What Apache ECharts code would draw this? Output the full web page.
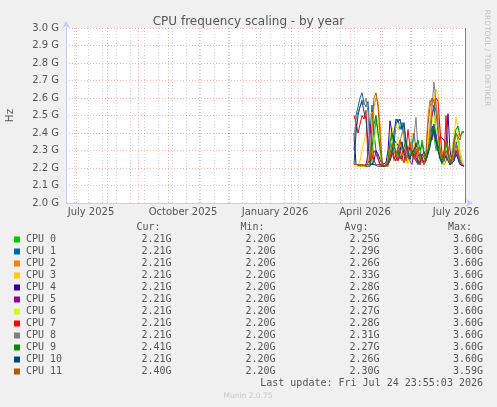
<!DOCTYPE html>
<html>
<head>
<meta charset="utf-8">
<title>CPU frequency scaling - by year</title>
<script src="https://cdn.jsdelivr.net/npm/echarts@6/dist/echarts.min.js"></script>
<style>
  html, body { margin: 0; padding: 0; background: #f0f0f0; }
  #chart { width: 497px; height: 407px; }
</style>
</head>
<body>
<div id="chart"></div>
<script>
const DAY = 24 * 3600 * 1000
// x range of the graph (400 days up to last update)
const xMin = Date.UTC(2025, 5, 21)
const xMax = Date.UTC(2026, 6, 25)
// samples: every 2 days from 5 April 2026
const firstDay = Date.UTC(2026, 3, 5)
const stepDays = 2

const names = ['CPU 0', 'CPU 1', 'CPU 2', 'CPU 3', 'CPU 4', 'CPU 5', 'CPU 6', 'CPU 7', 'CPU 8', 'CPU 9', 'CPU 10', 'CPU 11']
const colors = ['#00cc00', '#0066b3', '#ff8000', '#ffcc00', '#330099', '#990099', '#ccff00', '#ff0000', '#808080', '#008f00', '#00487d', '#b35a00']

// GHz
const cpu0 = [2.22, 2.21, 2.22, 2.21, 2.21, 2.22, 2.21, 2.21,
  2.21, 2.23, 2.35, 2.48, 2.40, 2.30, 2.22, 2.21,
  2.21, 2.22, 2.30, 2.40, 2.35, 2.28, 2.25, 2.30,
  2.33, 2.28, 2.26, 2.24, 2.30, 2.36, 2.28, 2.25,
  2.23, 2.26, 2.36, 2.30, 2.24, 2.28, 2.35, 2.42,
  2.38, 2.30, 2.34, 2.26, 2.22, 2.25, 2.30, 2.27,
  2.22, 2.23, 2.32, 2.40, 2.36, 2.27, 2.22, 2.21]
const cpu1 = [2.30, 2.50, 2.55, 2.60, 2.63, 2.57, 2.55, 2.58,
  2.40, 2.56, 2.40, 2.30, 2.26, 2.22, 2.21, 2.21,
  2.21, 2.21, 2.25, 2.30, 2.34, 2.45, 2.48, 2.42,
  2.46, 2.38, 2.30, 2.27, 2.25, 2.33, 2.40, 2.30,
  2.26, 2.22, 2.23, 2.28, 2.25, 2.30, 2.45, 2.50,
  2.56, 2.40, 2.32, 2.28, 2.25, 2.22, 2.24, 2.30,
  2.23, 2.22, 2.25, 2.35, 2.30, 2.24, 2.22, 2.21]
const cpu2 = [2.22, 2.21, 2.21, 2.22, 2.21, 2.21, 2.22, 2.21,
  2.21, 2.40, 2.55, 2.60, 2.58, 2.45, 2.23, 2.21,
  2.21, 2.21, 2.26, 2.30, 2.24, 2.28, 2.32, 2.26,
  2.24, 2.30, 2.27, 2.23, 2.28, 2.33, 2.26, 2.29,
  2.24, 2.22, 2.25, 2.24, 2.30, 2.50, 2.59, 2.55,
  2.60, 2.56, 2.48, 2.32, 2.24, 2.22, 2.28, 2.25,
  2.22, 2.21, 2.26, 2.32, 2.28, 2.23, 2.22, 2.21]
const cpu3 = [2.22, 2.23, 2.22, 2.24, 2.30, 2.35, 2.40, 2.48,
  2.50, 2.52, 2.53, 2.50, 2.46, 2.38, 2.25, 2.21,
  2.22, 2.24, 2.38, 2.43, 2.40, 2.44, 2.42, 2.46,
  2.43, 2.35, 2.28, 2.24, 2.30, 2.40, 2.35, 2.28,
  2.26, 2.24, 2.28, 2.25, 2.30, 2.35, 2.48, 2.56,
  2.60, 2.65, 2.62, 2.40, 2.30, 2.26, 2.35, 2.30,
  2.24, 2.23, 2.38, 2.49, 2.42, 2.30, 2.25, 2.21]
const cpu4 = [2.40, 2.22, 2.21, 2.21, 2.22, 2.21, 2.21, 2.22,
  2.21, 2.22, 2.24, 2.30, 2.28, 2.25, 2.22, 2.21,
  2.23, 2.30, 2.47, 2.40, 2.36, 2.37, 2.33, 2.30,
  2.35, 2.28, 2.25, 2.24, 2.32, 2.27, 2.30, 2.34,
  2.28, 2.25, 2.24, 2.29, 2.27, 2.32, 2.38, 2.44,
  2.40, 2.35, 2.30, 2.38, 2.37, 2.36, 2.33, 2.51,
  2.30, 2.24, 2.30, 2.35, 2.30, 2.25, 2.22, 2.21]
const cpu5 = [2.22, 2.21, 2.22, 2.21, 2.21, 2.21, 2.22, 2.28,
  2.45, 2.30, 2.24, 2.22, 2.21, 2.22, 2.21, 2.21,
  2.21, 2.22, 2.28, 2.33, 2.26, 2.24, 2.30, 2.27,
  2.25, 2.29, 2.33, 2.26, 2.24, 2.22, 2.30, 2.26,
  2.23, 2.28, 2.25, 2.22, 2.24, 2.30, 2.40, 2.36,
  2.45, 2.38, 2.30, 2.26, 2.23, 2.28, 2.25, 2.30,
  2.22, 2.21, 2.24, 2.30, 2.26, 2.22, 2.21, 2.21]
const cpu6 = [2.22, 2.21, 2.21, 2.22, 2.21, 2.22, 2.21, 2.21,
  2.22, 2.25, 2.35, 2.42, 2.38, 2.30, 2.22, 2.21,
  2.21, 2.22, 2.28, 2.35, 2.30, 2.33, 2.38, 2.35,
  2.30, 2.26, 2.24, 2.22, 2.27, 2.30, 2.28, 2.32,
  2.26, 2.23, 2.25, 2.28, 2.24, 2.33, 2.40, 2.46,
  2.50, 2.42, 2.38, 2.28, 2.25, 2.22, 2.26, 2.28,
  2.23, 2.22, 2.28, 2.36, 2.34, 2.26, 2.22, 2.21]
const cpu7 = [2.50, 2.46, 2.40, 2.45, 2.50, 2.48, 2.53, 2.23,
  2.22, 2.25, 2.30, 2.28, 2.25, 2.22, 2.21, 2.21,
  2.21, 2.22, 2.26, 2.30, 2.25, 2.28, 2.24, 2.30,
  2.26, 2.23, 2.30, 2.42, 2.32, 2.28, 2.25, 2.30,
  2.24, 2.22, 2.28, 2.26, 2.24, 2.30, 2.38, 2.50,
  2.55, 2.60, 2.58, 2.42, 2.28, 2.24, 2.50, 2.30,
  2.22, 2.21, 2.26, 2.30, 2.28, 2.24, 2.22, 2.21]
const cpu8 = [2.35, 2.48, 2.52, 2.55, 2.59, 2.56, 2.60, 2.52,
  2.30, 2.24, 2.22, 2.21, 2.22, 2.21, 2.21, 2.21,
  2.22, 2.21, 2.24, 2.28, 2.32, 2.30, 2.26, 2.35,
  2.40, 2.45, 2.30, 2.26, 2.28, 2.32, 2.38, 2.49,
  2.30, 2.25, 2.24, 2.27, 2.26, 2.30, 2.36, 2.55,
  2.69, 2.58, 2.45, 2.30, 2.26, 2.24, 2.30, 2.28,
  2.24, 2.22, 2.28, 2.34, 2.30, 2.25, 2.22, 2.21]
const cpu9 = [2.22, 2.21, 2.22, 2.21, 2.22, 2.21, 2.21, 2.22,
  2.21, 2.30, 2.45, 2.50, 2.40, 2.32, 2.24, 2.21,
  2.21, 2.23, 2.35, 2.40, 2.33, 2.28, 2.30, 2.25,
  2.28, 2.32, 2.36, 2.30, 2.25, 2.30, 2.27, 2.33,
  2.36, 2.30, 2.34, 2.28, 2.25, 2.30, 2.34, 2.40,
  2.45, 2.36, 2.32, 2.27, 2.24, 2.30, 2.35, 2.28,
  2.24, 2.26, 2.36, 2.42, 2.44, 2.38, 2.40, 2.41]
const cpu10 = [2.22, 2.40, 2.50, 2.55, 2.58, 2.52, 2.48, 2.35,
  2.22, 2.21, 2.22, 2.21, 2.21, 2.22, 2.21, 2.21,
  2.21, 2.22, 2.24, 2.28, 2.40, 2.48, 2.46, 2.48,
  2.42, 2.46, 2.35, 2.28, 2.25, 2.30, 2.26, 2.24,
  2.22, 2.24, 2.26, 2.23, 2.25, 2.28, 2.32, 2.38,
  2.42, 2.35, 2.30, 2.25, 2.23, 2.22, 2.27, 2.24,
  2.22, 2.21, 2.24, 2.28, 2.25, 2.22, 2.21, 2.21]
const cpu11 = [2.22, 2.21, 2.22, 2.21, 2.22, 2.21, 2.21, 2.22,
  2.25, 2.45, 2.60, 2.63, 2.55, 2.40, 2.22, 2.21,
  2.21, 2.22, 2.28, 2.34, 2.30, 2.26, 2.32, 2.36,
  2.30, 2.27, 2.24, 2.30, 2.35, 2.28, 2.25, 2.30,
  2.32, 2.26, 2.24, 2.22, 2.28, 2.45, 2.55, 2.60,
  2.58, 2.52, 2.40, 2.30, 2.26, 2.24, 2.35, 2.32,
  2.23, 2.26, 2.34, 2.40, 2.38, 2.36, 2.41, 2.40]
const values = [cpu0, cpu1, cpu2, cpu3, cpu4, cpu5, cpu6, cpu7, cpu8, cpu9, cpu10, cpu11]

const cur = ['2.21G', '2.21G', '2.21G', '2.21G', '2.21G', '2.21G', '2.21G', '2.21G', '2.21G', '2.41G', '2.21G', '2.40G']
const min = ['2.20G', '2.20G', '2.20G', '2.20G', '2.20G', '2.20G', '2.20G', '2.20G', '2.20G', '2.20G', '2.20G', '2.20G']
const avg = ['2.25G', '2.29G', '2.26G', '2.33G', '2.28G', '2.26G', '2.27G', '2.28G', '2.31G', '2.27G', '2.26G', '2.30G']
const max = ['3.60G', '3.60G', '3.60G', '3.60G', '3.60G', '3.60G', '3.60G', '3.60G', '3.60G', '3.60G', '3.60G', '3.59G']

// x labels sit in the middle of their month
const xLabels = ['July 2025', 'October 2025', 'January 2026', 'April 2026', 'July 2026']
const xLabelDates = [Date.UTC(2025, 6, 16), Date.UTC(2025, 9, 16), Date.UTC(2026, 0, 16), Date.UTC(2026, 3, 16), Date.UTC(2026, 6, 16)]

const textColor = '#555'
const mono = '"DejaVu Sans Mono", monospace'
const sans = '"DejaVu Sans", sans-serif'
const redGrid = 'rgba(240,60,60,0.38)'
const greyGrid = 'rgba(130,130,130,0.35)'

// grid lines: month starts (red) and every second sunday (grey)
const monthLines = []
for (let m = 6; m <= 18; m++) {
  monthLines.push({ xAxis: Date.UTC(2025, m, 1) })
}
const weekLines = []
for (let t = Date.UTC(2025, 5, 29); t < xMax; t += 14 * DAY) {
  weekLines.push({ xAxis: t })
}

const series = [
  {
    type: 'line', data: [], silent: true,
    markLine: {
      silent: true, symbol: 'none', animation: false, label: { show: false },
      lineStyle: { color: greyGrid, type: [1, 2], width: 1 },
      data: weekLines,
    },
  },
  {
    type: 'line', data: [], silent: true,
    markLine: {
      silent: true, symbol: 'none', animation: false, label: { show: false },
      lineStyle: { color: redGrid, type: [1, 2], width: 1 },
      data: monthLines,
    },
  },
]
names.forEach(function (name, i) {
  series.push({
    name: name,
    type: 'line',
    symbol: 'none',
    animation: false,
    lineStyle: { width: 1, color: colors[i] },
    itemStyle: { color: colors[i] },
    data: values[i].map(function (v, k) { return [firstDay + k * stepDays * DAY, v] }),
  })
})
// right border of the graph
series.push({
  type: 'line', data: [], silent: true,
  markLine: {
    silent: true, symbol: 'none', animation: false, label: { show: false },
    lineStyle: { color: '#808080', type: 'solid', width: 1 },
    data: [{ xAxis: xMax }],
  },
})

// legend table
const graphic = []
const rowTop = 239.5
const colRight = [171.5, 275.5, 379.5, 483]
const headers = ['Cur:', 'Min:', 'Avg:', 'Max:']
headers.forEach(function (h, c) {
  graphic.push({ type: 'text', x: colRight[c] - 11, y: 227.5, style: { text: h, font: '10px ' + mono, fill: textColor, textAlign: 'right', textVerticalAlign: 'middle' } })
})
names.forEach(function (name, i) {
  const y = rowTop + i * 12
  graphic.push({ type: 'rect', shape: { x: 14, y: y - 3, width: 6, height: 6 }, style: { fill: colors[i] } })
  graphic.push({ type: 'text', x: 26, y: y, style: { text: name, font: '10px ' + mono, fill: textColor, textVerticalAlign: 'middle' } })
  ;[cur, min, avg, max].forEach(function (col, c) {
    graphic.push({ type: 'text', x: colRight[c], y: y, style: { text: col[i], font: '10px ' + mono, fill: textColor, textAlign: 'right', textVerticalAlign: 'middle' } })
  })
})
graphic.push({ type: 'text', x: 483, y: 383.5, style: { text: 'Last update: Fri Jul 24 23:55:03 2026', font: '10px ' + mono, fill: textColor, textAlign: 'right', textVerticalAlign: 'middle' } })
graphic.push({ type: 'text', x: 248, y: 396, style: { text: 'Munin 2.0.75', font: '7.5px ' + sans, fill: '#c8c8c8', textAlign: 'center', textVerticalAlign: 'middle' } })
graphic.push({ type: 'text', x: 487, y: 58, rotation: -Math.PI / 2, style: { text: 'RRDTOOL / TOBI OETIKER', font: '7.5px ' + sans, fill: '#c0c0c0', textAlign: 'center', textVerticalAlign: 'middle' } })

const chart = echarts.init(document.getElementById('chart'), null, { renderer: 'canvas' })
chart.setOption({
  animation: false,
  backgroundColor: '#f0f0f0',
  title: {
    text: 'CPU frequency scaling - by year',
    left: 'center',
    top: 11,
    textStyle: { fontFamily: sans, fontSize: 12, fontWeight: 'normal', color: textColor },
  },
  grid: {
    left: 66, right: 32, top: 28, bottom: 204,
    show: true, backgroundColor: '#ffffff', borderWidth: 0,
    outerBoundsMode: 'none',
  },
  xAxis: {
    type: 'value',
    min: xMin,
    max: xMax,
    axisLine: {
      show: true,
      lineStyle: { color: '#c8c8ff', width: 1 },
      symbol: ['none', 'arrow'], symbolSize: [6, 7], symbolOffset: [0, 8],
    },
    axisTick: { show: false },
    splitLine: { show: false },
    axisLabel: {
      customValues: xLabelDates,
      formatter: function (v) { return xLabels[xLabelDates.indexOf(v)] || '' },
      fontFamily: sans, fontSize: 10, color: textColor, margin: 4,
    },
  },
  yAxis: {
    type: 'value',
    min: 2.0,
    max: 3.0,
    interval: 0.1,
    name: 'Hz',
    nameLocation: 'middle',
    nameRotate: 90,
    nameGap: 50,
    nameTextStyle: { fontFamily: sans, fontSize: 10.5, color: textColor },
    axisLine: {
      show: true,
      lineStyle: { color: '#c8c8ff', width: 1 },
      symbol: ['none', 'arrow'], symbolSize: [6, 7], symbolOffset: [0, 7],
    },
    axisTick: { show: false },
    splitLine: { show: true, lineStyle: { color: redGrid, type: [1, 2], width: 1 } },
    axisLabel: {
      formatter: function (v) { return v.toFixed(1) + ' G' },
      fontFamily: sans, fontSize: 10, color: textColor, margin: 7,
    },
  },
  series: series,
  graphic: graphic,
})
</script>
</body>
</html>
